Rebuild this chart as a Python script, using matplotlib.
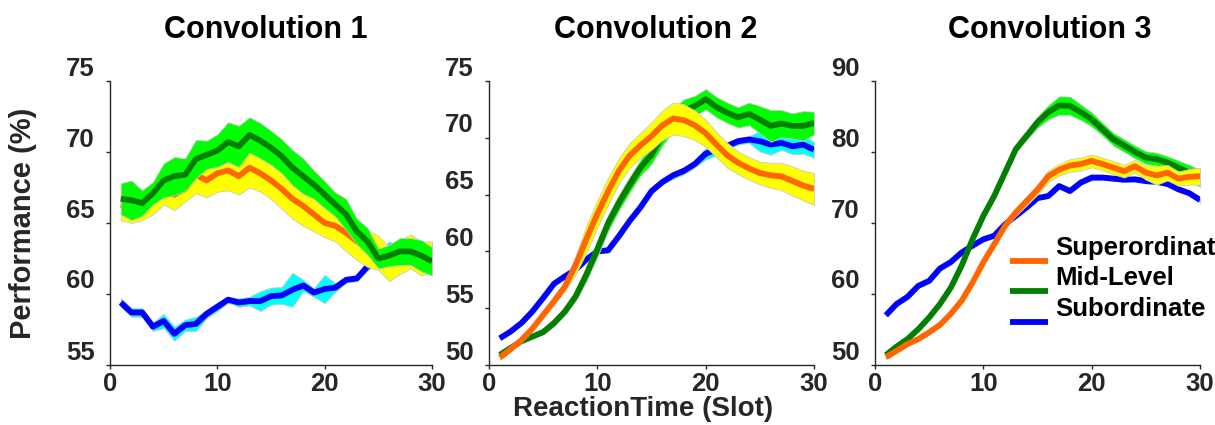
import numpy as np
import matplotlib
matplotlib.use("Agg")
import matplotlib.pyplot as plt
from matplotlib.lines import Line2D
from matplotlib.legend_handler import HandlerLine2D
from matplotlib.transforms import ScaledTranslation

plt.rcParams['font.family'] = ['Liberation Sans', 'DejaVu Sans']

# ---------------------------------------------------------------------------
# Data: mean performance (%) and half-width of the shaded band, slots 1..30
# ---------------------------------------------------------------------------
slots = np.arange(1, 31)

# Convolution 1
c1_sup = [66.3, 66.1, 66.3, 66.6, 67.1, 67.0, 67.4, 68.4, 68.0, 68.5,
          68.7, 68.3, 68.9, 68.5, 68.0, 67.4, 66.7, 66.2, 65.6, 65.0,
          64.8, 64.3, 63.7, 63.2, 62.9, 62.1, 62.6, 63.0, 62.5, 62.6]
c1_sup_err = [1.1, 1.1, 1.1, 1.0, 0.8, 1.1, 0.9, 1.3, 1.2, 1.3,
              1.4, 1.3, 1.4, 1.3, 1.3, 1.4, 1.4, 1.4, 1.2, 1.0,
              1.1, 1.3, 1.3, 1.3, 1.2, 1.2, 1.2, 1.2, 1.2, 1.1]
c1_mid = [66.7, 66.6, 66.4, 67.1, 68.0, 68.3, 68.4, 69.5, 69.8, 70.1,
          70.7, 70.4, 71.2, 70.8, 70.3, 69.7, 68.9, 68.3, 67.7, 67.0,
          66.3, 65.6, 64.4, 63.7, 62.5, 62.7, 63.0, 63.0, 62.7, 62.3]
c1_mid_err = [1.1, 1.4, 0.9, 0.8, 1.2, 1.35, 1.15, 1.35, 1.0, 1.15,
              1.4, 1.45, 1.25, 1.25, 1.2, 1.2, 1.25, 1.25, 1.0, 0.95,
              0.85, 1.1, 0.9, 0.95, 0.7, 0.75, 0.95, 0.95, 1.1, 1.0]
c1_sub = [59.4, 58.7, 58.7, 57.7, 58.1, 57.2, 57.8, 57.9, 58.6, 59.1,
          59.6, 59.4, 59.5, 59.5, 59.85, 59.9, 60.3, 60.6, 60.1, 60.35,
          60.45, 61.0, 61.1, 61.95, 62.6, 63.2, 63.0, 63.3, 63.1, 63.0]
c1_sub_err = [0.3, 0.3, 0.3, 0.3, 0.5, 0.5, 0.4, 0.5, 0.3, 0.3,
              0.2, 0.3, 0.3, 0.7, 0.6, 0.6, 1.2, 0.4, 0.3, 1.0,
              0.3, 0.2, 0.2, 0.3, 0.4, 0.5, 0.4, 0.4, 0.4, 0.4]

# Convolution 2
c2_sup = [50.65, 51.4, 52.2, 53.2, 54.4, 55.6, 56.9, 58.8, 61.1, 63.3,
          65.3, 67.1, 68.45, 69.35, 70.15, 71.1, 71.7, 71.55, 71.1, 70.4,
          69.4, 68.45, 67.8, 67.3, 66.9, 66.7, 66.6, 66.2, 65.8, 65.5]
c2_sup_err = [0.2, 0.2, 0.2, 0.2, 0.2, 0.2, 0.4, 0.8, 1.2, 1.2,
              1.2, 1.1, 1.1, 1.1, 1.2, 1.3, 1.4, 1.4, 1.3, 1.2,
              1.1, 1.1, 1.0, 1.0, 1.0, 1.1, 1.2, 1.3, 1.3, 1.4]
c2_mid = [50.9, 51.5, 52.1, 52.5, 52.9, 53.7, 54.7, 56.05, 58.0, 60.2,
          62.5, 64.3, 65.9, 67.4, 68.5, 70.2, 71.6, 72.4, 72.8, 73.4,
          72.7, 72.2, 71.8, 72.1, 71.6, 71.05, 71.25, 71.05, 71.05, 71.3]
c2_mid_err = [0.2, 0.2, 0.2, 0.2, 0.2, 0.3, 0.3, 0.4, 0.6, 0.7,
              0.7, 0.7, 0.7, 0.7, 0.8, 0.9, 1.0, 1.0, 0.9, 0.9,
              0.9, 0.9, 0.9, 1.0, 1.2, 1.4, 1.2, 1.1, 1.3, 1.0]
c2_sub = [52.35, 52.95, 53.7, 54.7, 55.9, 57.15, 57.8, 58.4, 59.3, 60.0,
          60.1, 61.35, 62.7, 63.9, 65.3, 66.1, 66.7, 67.1, 67.7, 68.6,
          68.95, 69.3, 69.7, 69.85, 69.7, 69.4, 69.55, 69.25, 69.4, 68.95]
c2_sub_err = [0.1, 0.1, 0.1, 0.1, 0.1, 0.1, 0.2, 0.2, 0.2, 0.2,
              0.2, 0.2, 0.2, 0.2, 0.2, 0.2, 0.3, 0.3, 0.3, 0.5,
              0.5, 0.3, 0.3, 0.3, 0.9, 0.9, 0.6, 0.7, 0.8, 0.7]

# Convolution 3
c3_sup = [51.1, 52.0, 52.95, 53.65, 54.6, 55.65, 57.2, 59.05, 61.6, 64.45,
          67.0, 69.6, 71.5, 73.1, 74.7, 76.6, 77.5, 78.1, 78.3, 78.75,
          78.3, 77.8, 77.3, 78.0, 77.1, 76.7, 77.1, 76.25, 76.5, 76.6]
c3_sup_err = [0.2, 0.2, 0.2, 0.2, 0.2, 0.2, 0.2, 0.2, 0.2, 0.2,
              0.3, 0.4, 0.5, 0.6, 0.7, 0.8, 0.8, 0.9, 0.9, 0.9,
              0.9, 0.9, 0.9, 0.9, 1.0, 1.3, 1.1, 1.0, 1.1, 1.2]
c3_mid = [51.4, 52.6, 53.65, 55.05, 56.7, 58.6, 60.9, 64.0, 67.7, 71.0,
          73.8, 77.1, 80.4, 82.3, 84.2, 85.6, 86.55, 86.5, 85.6, 84.6,
          83.2, 81.8, 80.9, 80.0, 79.2, 79.0, 78.5, 77.8, 77.1, 76.3]
c3_mid_err = [0.2, 0.2, 0.2, 0.2, 0.2, 0.2, 0.2, 0.2, 0.4, 0.4,
              0.4, 0.4, 0.4, 0.6, 0.8, 1.0, 1.3, 1.3, 1.1, 1.0,
              0.9, 0.9, 0.9, 0.9, 0.9, 0.9, 0.9, 1.0, 1.1, 1.2]
c3_sub = [57.0, 58.6, 59.6, 61.15, 61.85, 63.6, 64.5, 65.85, 66.8, 67.7,
          68.2, 69.8, 71.0, 72.2, 73.5, 73.8, 75.2, 74.5, 75.7, 76.4,
          76.4, 76.25, 76.1, 76.15, 75.9, 75.8, 75.5, 74.75, 74.2, 73.25]
c3_sub_err = [0.1, 0.1, 0.1, 0.1, 0.1, 0.1, 0.1, 0.1, 0.1, 0.1,
              0.1, 0.1, 0.1, 0.1, 0.1, 0.1, 0.2, 0.2, 0.3, 0.4,
              0.3, 0.3, 0.3, 0.3, 0.3, 0.3, 0.3, 0.3, 0.3, 0.4]

titles = ["Convolution 1", "Convolution 2", "Convolution 3"]
ylims = [(55, 75), (50, 75), (50, 90)]
ysteps = [5, 5, 10]
xticks = [0, 10, 20, 30]
labels = {'sup': 'Superordinat', 'mid': 'Mid-Level', 'sub': 'Subordinate'}

panels = [
    {'sup': (c1_sup, c1_sup_err), 'mid': (c1_mid, c1_mid_err), 'sub': (c1_sub, c1_sub_err)},
    {'sup': (c2_sup, c2_sup_err), 'mid': (c2_mid, c2_mid_err), 'sub': (c2_sub, c2_sub_err)},
    {'sup': (c3_sup, c3_sup_err), 'mid': (c3_mid, c3_mid_err), 'sub': (c3_sub, c3_sub_err)},
]
# drawing order (bottom to top) differs per panel in the original
orders = [['sub', 'sup', 'mid'], ['sub', 'mid', 'sup'], ['sub', 'mid', 'sup']]

# ---------------------------------------------------------------------------
# Styling
# ---------------------------------------------------------------------------
LINE_COL = {'sup': '#ff6600', 'mid': '#007f00', 'sub': '#0000ff'}
BAND_COL = {'sup': '#ffff00', 'mid': '#00ff00', 'sub': '#00ffff'}
TXT = '#262626'
rects = [(110/1215, 60/425, 322/1215, 284/425),
         (489/1215, 60/425, 325/1215, 284/425),
         (875/1215, 60/425, 325/1215, 284/425)]
title_x = [0.485, 0.512, 0.537]


class ShiftedLine(HandlerLine2D):
    """Legend line drawn below its text, as in the original figure."""
    def create_artists(self, legend, orig_handle, xdescent, ydescent,
                       width, height, fontsize, trans):
        arts = super().create_artists(legend, orig_handle, xdescent, ydescent,
                                      width, height, fontsize, trans)
        for a in arts:
            a.set_ydata(np.asarray(a.get_ydata()) - 11)
        return arts


fig = plt.figure(figsize=(12.15, 4.25), dpi=100)
axes = []
handles = {}
for i, data in enumerate(panels):
    ax = fig.add_axes(rects[i])
    axes.append(ax)
    for z, key in enumerate(orders[i]):
        mean, err = np.array(data[key][0]), np.array(data[key][1])
        ax.fill_between(slots, mean - err, mean + err, facecolor=BAND_COL[key],
                        edgecolor='#c8c8c8', linewidth=0.6, zorder=2 + 2*z)
        ln, = ax.plot(slots, mean, color=LINE_COL[key], lw=4.2,
                      solid_capstyle='butt', zorder=3 + 2*z)
        handles[key] = ln

    lo, hi = ylims[i]
    ax.set_xlim(0, 30)
    ax.set_ylim(lo, hi)
    ax.set_xticks(xticks)
    ax.set_yticks(np.arange(lo, hi + 1, ysteps[i]))
    for s in ['top', 'right']:
        ax.spines[s].set_visible(False)
    for s in ['left', 'bottom']:
        ax.spines[s].set_color(TXT)
        ax.spines[s].set_linewidth(1.0)
    ax.tick_params(direction='out', length=3, width=1, colors=TXT,
                   labelsize=18.5)
    ax.tick_params(axis='y', pad=8)
    ax.tick_params(axis='x', pad=2)
    for lab in ax.get_xticklabels():
        lab.set_fontweight('bold')
    for lab in ax.get_yticklabels():
        lab.set_fontweight('bold')
        lab.set_transform(lab.get_transform() +
                          ScaledTranslation(0, 0.15, fig.dpi_scale_trans))
    ax.set_title(titles[i], fontsize=22, fontweight='bold', color='black',
                 pad=31, x=title_x[i])

axes[0].set_ylabel("Performance (%)", fontsize=21, fontweight='bold', color=TXT)
axes[0].yaxis.set_label_coords(-0.227, 0.5)
axes[1].set_xlabel("ReactionTime (Slot)", fontsize=20, fontweight='bold', color=TXT)
axes[1].xaxis.set_label_coords(0.474, -0.108)

keys = ['sup', 'mid', 'sub']
axes[2].legend([handles[k] for k in keys], [labels[k] for k in keys],
               loc='center left', bbox_to_anchor=(0.415, 0.306),
               frameon=False, prop={'weight': 'bold', 'size': 18.5},
               handlelength=1.5, handletextpad=0.25, labelspacing=0.25,
               borderpad=0, borderaxespad=0,
               handler_map={Line2D: ShiftedLine()})

fig.savefig("out.png", dpi=100)
